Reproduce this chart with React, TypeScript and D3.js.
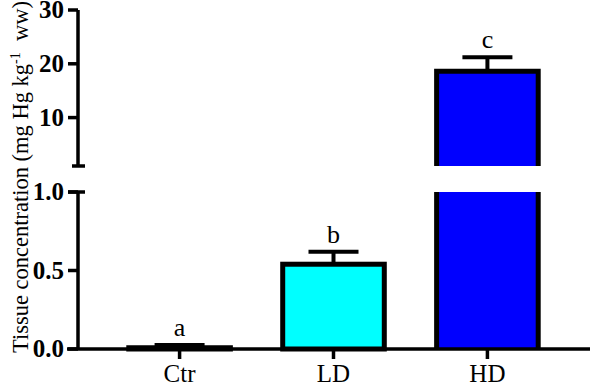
import React from 'react';
import * as d3 from 'd3';

const groups = ['Ctr', 'LD', 'HD'];
const means = [0.008, 0.54, 18.6];
const errors = [0.017, 0.08, 2.6];
const letters = ['a', 'b', 'c'];
const colors = ['#ffffff', '#00ffff', '#0000ff'];
const lowTicks = [0, 0.5, 1];
const highTicks = [10, 20, 30];

const W = 590;
const H = 387;
const axisX = 78;
const xEnd = 589;
const font = '"Liberation Serif", "Times New Roman", serif';

export default function App() {
  const x = d3.scaleBand<string>()
    .domain(groups)
    .range([axisX, xEnd])
    .paddingInner(0.34)
    .paddingOuter(0.33);

  // broken y axis: lower segment 0-1, upper segment 1-30
  const yLow = d3.scaleLinear().domain([0, 1]).range([349, 192]);
  const yHigh = d3.scaleLinear().domain([1, 30]).range([166, 10]);

  const bw = x.bandwidth();
  const capW = 50;
  const barStroke = 5;

  const yOf = (v: number) => (v <= 1 ? yLow(v) : yHigh(v));

  return (
    <svg width={W} height={H} style={{ position: 'absolute', left: 0, top: 0, background: '#fff' }}>
      {/* bars */}
      {groups.map((g, i) => {
        const x0 = x(g)!;
        const cx = x0 + bw / 2;
        const m = means[i];
        const top = m + errors[i];
        const els: React.ReactNode[] = [];
        // error bar
        els.push(
          <g key="err" stroke="#000" strokeWidth={4}>
            <line x1={cx} x2={cx} y1={yOf(m)} y2={yOf(top)} />
            <line x1={cx - capW / 2} x2={cx + capW / 2} y1={yOf(top)} y2={yOf(top)} />
          </g>
        );
        if (m <= 1) {
          els.push(
            <rect key="bar" x={x0} y={yLow(m)} width={bw} height={yLow(0) - yLow(m)}
              fill={colors[i]} stroke="#000" strokeWidth={barStroke} />
          );
        } else {
          // lower piece: no top edge
          els.push(
            <g key="low">
              <rect x={x0} y={yLow(1)} width={bw} height={yLow(0) - yLow(1)} fill={colors[i]} />
              <line x1={x0} x2={x0} y1={yLow(1)} y2={yLow(0)} stroke="#000" strokeWidth={barStroke} />
              <line x1={x0 + bw} x2={x0 + bw} y1={yLow(1)} y2={yLow(0)} stroke="#000" strokeWidth={barStroke} />
            </g>
          );
          // upper piece: no bottom edge
          els.push(
            <g key="high">
              <rect x={x0} y={yHigh(m)} width={bw} height={yHigh(1) - yHigh(m)} fill={colors[i]} />
              <path d={`M${x0},${yHigh(1)}V${yHigh(m)}H${x0 + bw}V${yHigh(1)}`}
                fill="none" stroke="#000" strokeWidth={barStroke} />
            </g>
          );
        }
        els.push(
          <text key="lab" x={cx} y={yOf(top) - 9} textAnchor="middle"
            fontFamily={font} fontSize={26} fill="#000">{letters[i]}</text>
        );
        return <g key={g}>{els}</g>;
      })}

      {/* x axis */}
      <g stroke="#000" strokeWidth={3.5}>
        <line x1={axisX - 11} x2={xEnd + 2} y1={yLow(0)} y2={yLow(0)} />
        {groups.map(g => {
          const cx = x(g)! + bw / 2;
          return <line key={g} x1={cx} x2={cx} y1={yLow(0)} y2={yLow(0) + 10} />;
        })}
      </g>
      {groups.map(g => (
        <text key={g} x={x(g)! + bw / 2} y={382} textAnchor="middle"
          fontFamily={font} fontSize={25} fill="#000">{g}</text>
      ))}

      {/* y axis lower */}
      <g stroke="#000" strokeWidth={3.5}>
        <line x1={axisX} x2={axisX} y1={yLow(1)} y2={yLow(0)} />
        <line x1={axisX - 10} x2={axisX + 7} y1={yLow(1)} y2={yLow(1)} />
        {lowTicks.map(t => (
          <line key={t} x1={axisX - 10} x2={axisX} y1={yLow(t)} y2={yLow(t)} />
        ))}
      </g>
      {lowTicks.map(t => (
        <text key={t} x={axisX - 14} y={yLow(t)} dy="0.33em" textAnchor="end"
          fontFamily={font} fontSize={25} fontWeight="bold" fill="#000">{d3.format('.1f')(t)}</text>
      ))}

      {/* y axis upper */}
      <g stroke="#000" strokeWidth={3.5}>
        <line x1={axisX} x2={axisX} y1={yHigh(30)} y2={yHigh(1)} />
        <line x1={axisX - 6} x2={axisX + 7} y1={yHigh(1)} y2={yHigh(1)} />
        {highTicks.map(t => (
          <line key={t} x1={axisX - 10} x2={axisX} y1={yHigh(t)} y2={yHigh(t)} />
        ))}
      </g>
      {highTicks.map(t => (
        <text key={t} x={axisX - 14} y={yHigh(t)} dy="0.33em" textAnchor="end"
          fontFamily={font} fontSize={25} fontWeight="bold" fill="#000">{t}</text>
      ))}

      {/* y label */}
      <text transform={`translate(28,${177}) rotate(-90)`} textAnchor="middle"
        fontFamily={font} fontSize={22.5} fill="#000">
        Tissue concentration (mg Hg kg
        <tspan dy={-8} fontSize={14}>-1</tspan>
        <tspan dy={8}>{'\u00a0 ww)'}</tspan>
      </text>
    </svg>
  );
}
